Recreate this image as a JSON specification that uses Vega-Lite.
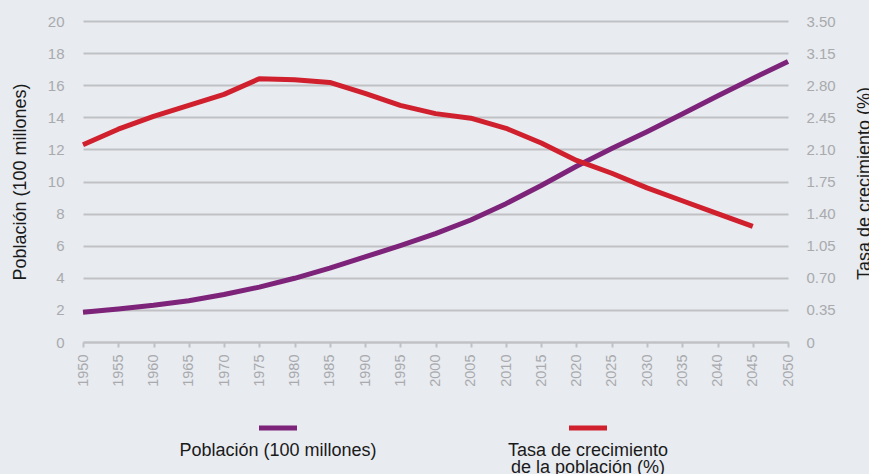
{
  "$schema": "https://vega.github.io/schema/vega-lite/v6.json",
  "width": 705,
  "height": 321,
  "autosize": {"type": "none"},
  "padding": {"left": 83, "top": 21, "right": 81, "bottom": 132},
  "background": "#e8ebf0",
  "config": {
    "view": {"stroke": null},
    "font": "Liberation Sans",
    "axis": {"labelColor": "#a8aaad", "labelFontWeight": "normal", "titleColor": "#1a1a1a", "titleFontWeight": "normal", "titleFont": "Liberation Sans", "labelFont": "Liberation Sans"}
  },
  "data": {
    "values": [
      {"year": 1950, "serie": "Población (100 millones)", "value": 1.85},
      {"year": 1955, "serie": "Población (100 millones)", "value": 2.06},
      {"year": 1960, "serie": "Población (100 millones)", "value": 2.29},
      {"year": 1965, "serie": "Población (100 millones)", "value": 2.57},
      {"year": 1970, "serie": "Población (100 millones)", "value": 2.96},
      {"year": 1975, "serie": "Población (100 millones)", "value": 3.42},
      {"year": 1980, "serie": "Población (100 millones)", "value": 3.97},
      {"year": 1985, "serie": "Población (100 millones)", "value": 4.6},
      {"year": 1990, "serie": "Población (100 millones)", "value": 5.3},
      {"year": 1995, "serie": "Población (100 millones)", "value": 6.0},
      {"year": 2000, "serie": "Población (100 millones)", "value": 6.75},
      {"year": 2005, "serie": "Población (100 millones)", "value": 7.6},
      {"year": 2010, "serie": "Población (100 millones)", "value": 8.62},
      {"year": 2015, "serie": "Población (100 millones)", "value": 9.75},
      {"year": 2020, "serie": "Población (100 millones)", "value": 10.95},
      {"year": 2025, "serie": "Población (100 millones)", "value": 12.05},
      {"year": 2030, "serie": "Población (100 millones)", "value": 13.1},
      {"year": 2035, "serie": "Población (100 millones)", "value": 14.2},
      {"year": 2040, "serie": "Población (100 millones)", "value": 15.33},
      {"year": 2045, "serie": "Población (100 millones)", "value": 16.42},
      {"year": 2050, "serie": "Población (100 millones)", "value": 17.48},
      {"year": 1950, "serie": "Tasa de crecimiento de la población (%)", "value": 2.15},
      {"year": 1955, "serie": "Tasa de crecimiento de la población (%)", "value": 2.32},
      {"year": 1960, "serie": "Tasa de crecimiento de la población (%)", "value": 2.46},
      {"year": 1965, "serie": "Tasa de crecimiento de la población (%)", "value": 2.58},
      {"year": 1970, "serie": "Tasa de crecimiento de la población (%)", "value": 2.7},
      {"year": 1975, "serie": "Tasa de crecimiento de la población (%)", "value": 2.87},
      {"year": 1980, "serie": "Tasa de crecimiento de la población (%)", "value": 2.86},
      {"year": 1985, "serie": "Tasa de crecimiento de la población (%)", "value": 2.83},
      {"year": 1990, "serie": "Tasa de crecimiento de la población (%)", "value": 2.71},
      {"year": 1995, "serie": "Tasa de crecimiento de la población (%)", "value": 2.58},
      {"year": 2000, "serie": "Tasa de crecimiento de la población (%)", "value": 2.49},
      {"year": 2005, "serie": "Tasa de crecimiento de la población (%)", "value": 2.44},
      {"year": 2010, "serie": "Tasa de crecimiento de la población (%)", "value": 2.33},
      {"year": 2015, "serie": "Tasa de crecimiento de la población (%)", "value": 2.17},
      {"year": 2020, "serie": "Tasa de crecimiento de la población (%)", "value": 1.98},
      {"year": 2025, "serie": "Tasa de crecimiento de la población (%)", "value": 1.84},
      {"year": 2030, "serie": "Tasa de crecimiento de la población (%)", "value": 1.68},
      {"year": 2035, "serie": "Tasa de crecimiento de la población (%)", "value": 1.54},
      {"year": 2040, "serie": "Tasa de crecimiento de la población (%)", "value": 1.4},
      {"year": 2045, "serie": "Tasa de crecimiento de la población (%)", "value": 1.26}
    ]
  },
  "encoding": {
    "x": {
      "field": "year",
      "type": "quantitative",
      "scale": {"domain": [1950, 2050], "nice": false, "zero": false},
      "axis": {
        "title": null,
        "values": [1950, 1955, 1960, 1965, 1970, 1975, 1980, 1985, 1990, 1995, 2000, 2005, 2010, 2015, 2020, 2025, 2030, 2035, 2040, 2045, 2050],
        "format": "d",
        "labelAngle": 270,
        "labelFontSize": 14.5,
        "labelPadding": 7,
        "tickSize": 5,
        "tickWidth": 2,
        "tickColor": "#bfc1c4",
        "domainColor": "#bfc1c4",
        "domainWidth": 2,
        "grid": false,
        "labelOverlap": false,
        "labelBound": false,
        "labelFlush": false
      }
    },
    "color": {
      "field": "serie",
      "type": "nominal",
      "scale": {"domain": ["Población (100 millones)", "Tasa de crecimiento de la población (%)"], "range": ["#7d2379", "#d0202e"]},
      "legend": {
        "title": null,
        "orient": "none",
        "legendX": 173.5,
        "legendY": 385.5,
        "direction": "horizontal",
        "symbolType": "stroke",
        "symbolSize": 1444,
        "symbolStrokeWidth": 5,
        "labelAlign": "center",
        "labelBaseline": "top",
        "labelOffset": -21.5,
        "labelFontSize": 18,
        "labelColor": "#1a1a1a",
        "labelFont": "Liberation Sans",
        "labelLimit": 0,
        "columnPadding": 130,
        "labelExpr": "datum.label == 'Tasa de crecimiento de la población (%)' ? ['Tasa de crecimiento', 'de la población (%)'] : [datum.label, ' ']",
        "encode": {"labels": {"update": {"dy": {"value": 14}, "lineHeight": {"value": 16.5}}}}
      }
    }
  },
  "layer": [
    {
      "transform": [{"filter": "datum.serie == 'Población (100 millones)'"}],
      "mark": {"type": "line", "strokeWidth": 5, "strokeJoin": "round"},
      "encoding": {
        "y": {
          "field": "value",
          "type": "quantitative",
          "scale": {"domain": [0, 20], "nice": false},
          "axis": {
            "orient": "left",
            "title": "Población (100 millones)",
            "values": [0, 2, 4, 6, 8, 10, 12, 14, 16, 18, 20],
            "ticks": false,
            "domain": false,
            "grid": true,
            "gridColor": "#bfc1c4",
            "gridWidth": 2,
            "labelFontSize": 15,
            "labelPadding": 19,
            "titleFontSize": 18,
            "titleAngle": 270,
            "titleBaseline": "middle",
            "titleX": -63,
            "titleY": 160.5
          }
        }
      }
    },
    {
      "transform": [{"filter": "datum.serie == 'Tasa de crecimiento de la población (%)'"}],
      "mark": {"type": "line", "strokeWidth": 5, "strokeJoin": "round"},
      "encoding": {
        "y": {
          "field": "value",
          "type": "quantitative",
          "scale": {"domain": [0, 3.5], "nice": false},
          "axis": {
            "orient": "right",
            "title": "Tasa de crecimiento (%)",
            "values": [0, 0.35, 0.7, 1.05, 1.4, 1.75, 2.1, 2.45, 2.8, 3.15, 3.5],
            "labelExpr": "datum.value == 0 ? '0' : format(datum.value, '.2f')",
            "ticks": false,
            "domain": false,
            "grid": false,
            "labelFontSize": 15,
            "labelPadding": 18,
            "titleFontSize": 18,
            "titleAngle": 270,
            "titleBaseline": "middle",
            "titleX": 76,
            "titleY": 162
          }
        }
      }
    }
  ],
  "resolve": {"scale": {"y": "independent"}}
}
